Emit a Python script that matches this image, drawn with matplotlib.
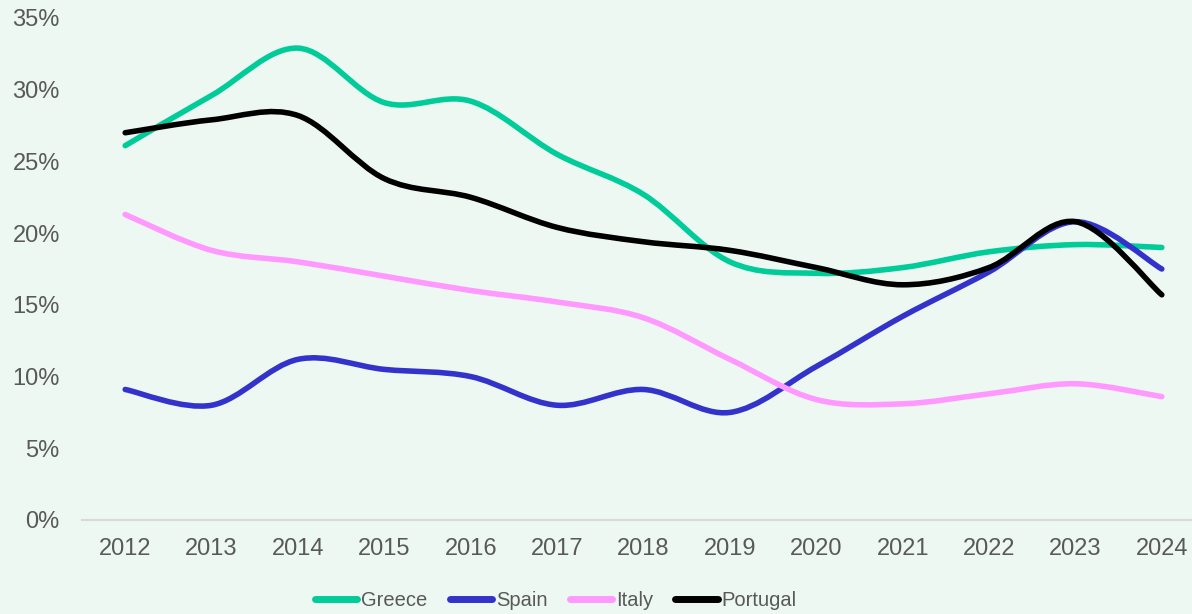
import numpy as np
import matplotlib
matplotlib.use("Agg")
import matplotlib.pyplot as plt
from matplotlib.path import Path
from matplotlib.patches import PathPatch
from matplotlib.lines import Line2D

plt.rcParams["font.family"] = ["Liberation Sans", "DejaVu Sans"]

years = [2012, 2013, 2014, 2015, 2016, 2017, 2018, 2019, 2020, 2021, 2022, 2023, 2024]
greece = [26.1, 29.6, 32.9, 29.1, 29.2, 25.5, 22.7, 18.0, 17.2, 17.6, 18.7, 19.2, 19.0]
spain = [9.1, 8.0, 11.2, 10.5, 10.0, 8.0, 9.1, 7.5, 10.7, 14.2, 17.3, 20.8, 17.5]
italy = [21.3, 18.8, 18.0, 17.0, 16.0, 15.2, 14.1, 11.2, 8.4, 8.1, 8.8, 9.5, 8.6]
portugal = [27.0, 27.9, 28.2, 23.8, 22.5, 20.4, 19.4, 18.8, 17.6, 16.4, 17.6, 20.8, 15.7]

series = [("Greece", greece, "#00CC99"),
          ("Spain", spain, "#3333CC"),
          ("Italy", italy, "#FF99FF"),
          ("Portugal", portugal, "#000000")]

bg = "#EDF8F3"


def smooth_path(x, y):
    # Excel-style smoothed line: cubic Bezier segments through the data points
    x = np.asarray(x, float)
    y = np.asarray(y, float)
    n = len(x)
    verts = [(x[0], y[0])]
    codes = [Path.MOVETO]
    for i in range(n - 1):
        p0 = np.array([x[max(i - 1, 0)], y[max(i - 1, 0)]])
        p1 = np.array([x[i], y[i]])
        p2 = np.array([x[i + 1], y[i + 1]])
        p3 = np.array([x[min(i + 2, n - 1)], y[min(i + 2, n - 1)]])
        c1 = p1 + (p2 - p0) / 6
        c2 = p2 - (p3 - p1) / 6
        verts += [tuple(c1), tuple(c2), tuple(p2)]
        codes += [Path.CURVE4] * 3
    return Path(verts, codes)


fig = plt.figure(figsize=(11.92, 6.14), dpi=100, facecolor=bg)
ax = fig.add_axes([82 / 1192, 94 / 614, 1123 / 1192, 502 / 614])
ax.set_facecolor(bg)

handles = []
for name, vals, col in series:
    patch = PathPatch(smooth_path(years, vals), facecolor="none", edgecolor=col,
                      lw=4, capstyle="round", joinstyle="round")
    ax.add_patch(patch)
    handles.append(Line2D([], [], color=col, lw=5, solid_capstyle="round", label=name))

ax.set_xlim(2011.5, 2024.5)
ax.set_ylim(0, 35)
ax.set_xticks(years)
ax.set_yticks(range(0, 36, 5))
ax.set_yticklabels([f"{v}%" for v in range(0, 36, 5)])
ax.tick_params(axis="both", length=0, labelsize=17, colors="#595959")
ax.tick_params(axis="x", pad=13)
ax.tick_params(axis="y", pad=16)
for s in ["top", "right", "left"]:
    ax.spines[s].set_visible(False)
ax.spines["bottom"].set_color("#D9D9D9")
ax.spines["bottom"].set_linewidth(1.5)

fig.legend(handles=handles, loc="center", bbox_to_anchor=(556 / 1192, 13 / 614),
           ncol=4, frameon=False, fontsize=14.5, labelcolor="#595959",
           handlelength=2.1, handletextpad=0.2, columnspacing=1.1)

fig.savefig("out.png", dpi=100, facecolor=bg)
